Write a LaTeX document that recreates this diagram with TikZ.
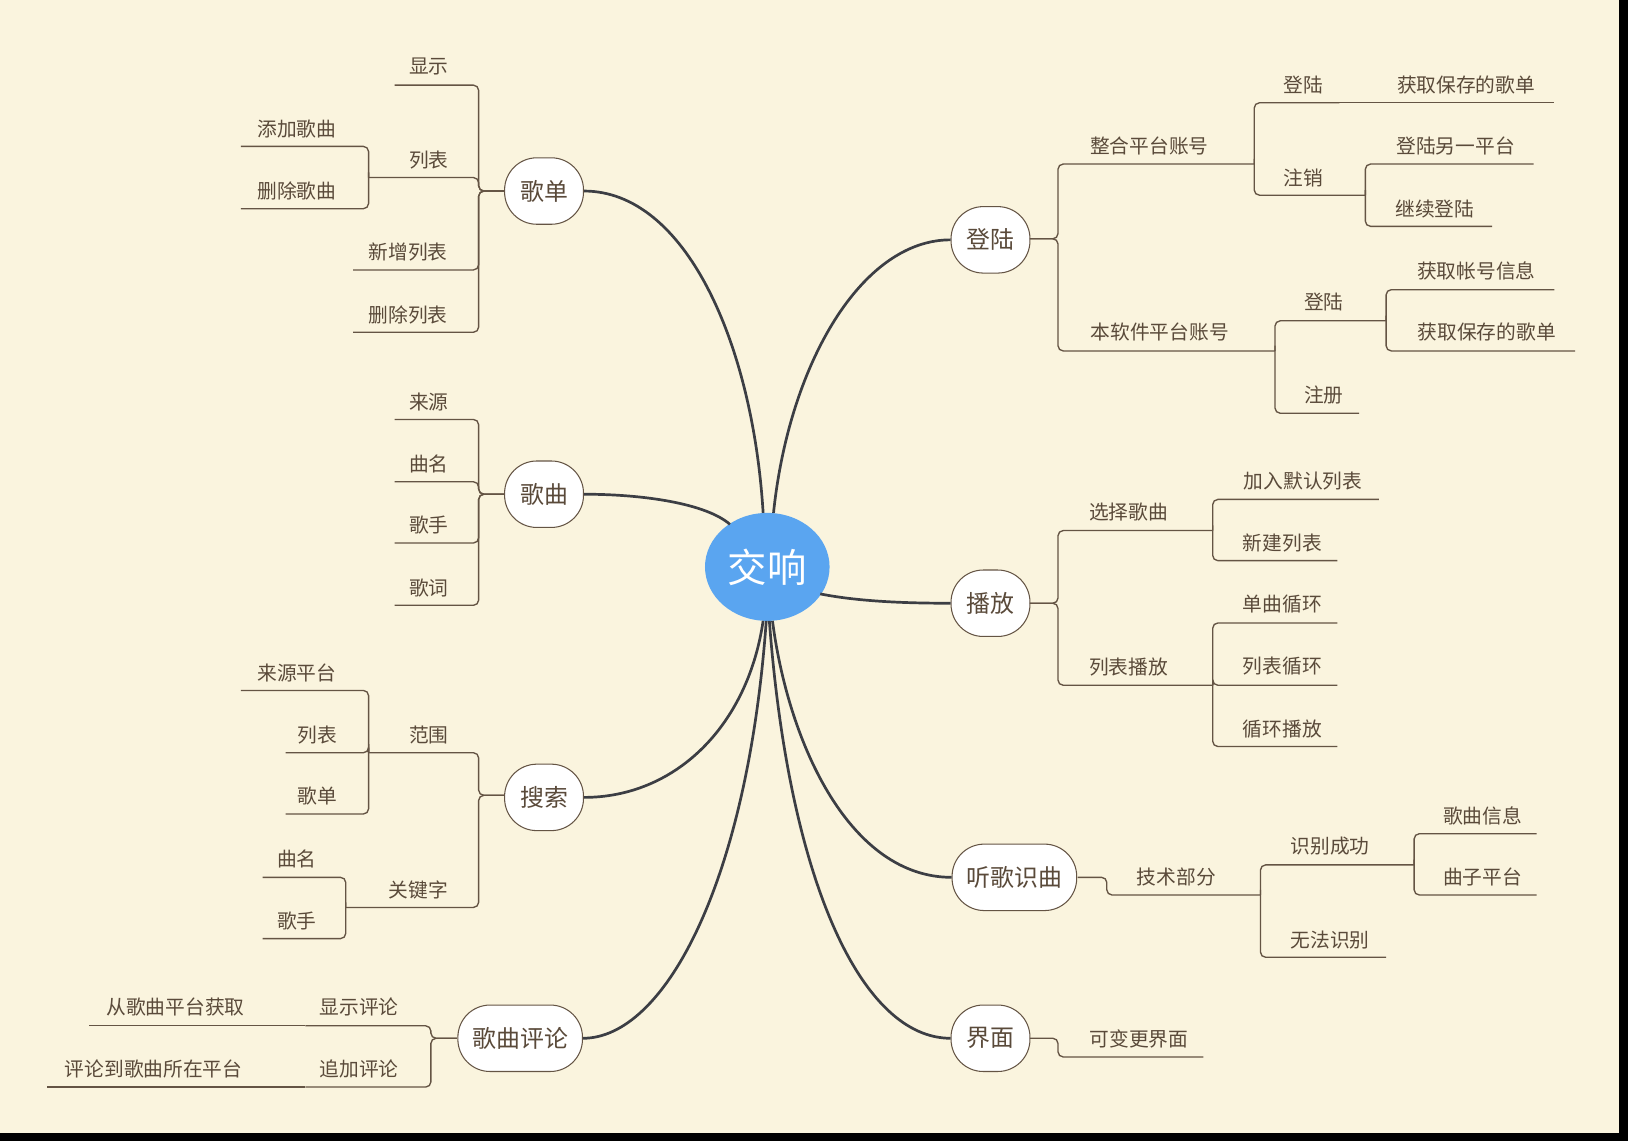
\documentclass[tikz,border=0pt]{standalone}
\usepackage{fontspec}
\setmainfont{Noto Sans CJK SC}
\usetikzlibrary{shapes.geometric}
\definecolor{bg}{RGB}{250,244,222}
\definecolor{txt}{RGB}{90,74,58}
\definecolor{brn}{RGB}{100,84,68}
\definecolor{mainc}{RGB}{60,62,68}
\definecolor{blu}{RGB}{90,165,240}
\tikzset{
 topic/.style={draw=brn,line width=1pt,fill=white,rounded corners=31pt,minimum height=64pt,minimum width=76pt,inner xsep=14pt,text=txt,font=\fontsize{23}{23}\selectfont},
 lab/.style={text=txt,font=\fontsize{19}{19}\selectfont,inner sep=0pt},
 br/.style={draw=brn,line width=1.3pt,rounded corners=5pt},
 mainl/.style={draw=mainc,line width=2.6pt},
}
\newcommand{\brn}[5]{\draw[br] (#1,#2) -- (#3,#2) -- (#3,#4) -- (#5,#4);}
\newcommand{\lb}[3]{\node[lab] at (#1,#2) {#3};}
\begin{document}
\begin{tikzpicture}[x=1pt,y=-1pt]
\fill[black] (0,0) rectangle (1568,1099);
\fill[bg] (0,0) rectangle (1559,1091);
\useasboundingbox (0,0) rectangle (1568,1099);
% topics
\node[topic] (gd) at (524,184) {歌单};
\node[topic] (gq) at (524,476) {歌曲};
\node[topic] (ss) at (524,768) {搜索};
\node[topic] (pl) at (501,1000) {歌曲评论};
\node[topic] (dl) at (954,231) {登陆};
\node[topic] (bf) at (954,581) {播放};
\node[topic] (tg) at (977,845) {听歌识曲};
\node[topic] (jm) at (954,1000) {界面};
\node[ellipse,fill=blu,minimum width=120pt,minimum height=104pt,text=white,font=\fontsize{38}{38}\selectfont] (c) at (739,546) {交响};
% main curves
\draw[mainl] (735,494) .. controls (725,330) and (660,184) .. (gd.east);
\draw[mainl] (703,505) .. controls (680,485) and (620,476) .. (gq.east);
\draw[mainl] (735,598) .. controls (720,700) and (650,768) .. (ss.east);
\draw[mainl] (738,598) .. controls (720,850) and (640,1000) .. (pl.east);
\draw[mainl] (745,494) .. controls (760,350) and (830,231) .. (dl.west);
\draw[mainl] (790,572) .. controls (830,580) and (880,581) .. (bf.west);
\draw[mainl] (744,598) .. controls (760,720) and (820,845) .. (tg.west);
\draw[mainl] (741,598) .. controls (760,850) and (830,1000) .. (jm.west);
% 歌单
\brn{486}{184}{461}{82}{380} \lb{413}{64}{显示}
\brn{486}{184}{461}{171}{355} \lb{413}{154}{列表}
\brn{486}{184}{461}{260}{340} \lb{393}{243}{新增列表}
\brn{486}{184}{461}{320}{340} \lb{393}{303}{删除列表}
\brn{355}{171}{355}{141}{232} \lb{286}{124}{添加歌曲}
\brn{355}{171}{355}{201}{232} \lb{286}{184}{删除歌曲}
% 歌曲
\brn{486}{476}{461}{404}{380} \lb{413}{387}{来源}
\brn{486}{476}{461}{464}{380} \lb{413}{447}{曲名}
\brn{486}{476}{461}{523}{380} \lb{413}{506}{歌手}
\brn{486}{476}{461}{583}{380} \lb{413}{566}{歌词}
% 搜索
\brn{486}{766}{461}{725}{355} \lb{413}{708}{范围}
\brn{486}{766}{461}{874}{333} \lb{403}{857}{关键字}
\brn{355}{725}{355}{665}{232} \lb{286}{648}{来源平台}
\brn{355}{725}{355}{725}{275} \lb{306}{708}{列表}
\brn{355}{725}{355}{784}{275} \lb{306}{767}{歌单}
\brn{333}{874}{333}{845}{253} \lb{286}{827}{曲名}
\brn{333}{874}{333}{904}{253} \lb{286}{887}{歌手}
% 歌曲评论
\brn{440}{1000}{415}{988}{294} \lb{346}{970}{显示评论}
\brn{440}{1000}{415}{1047}{294} \lb{346}{1030}{追加评论}
\draw[br] (294,988) -- (86,988); \lb{169}{970}{从歌曲平台获取}
\draw[br] (294,1047) -- (45,1047); \lb{148}{1030}{评论到歌曲所在平台}
% 登陆
\brn{992}{230}{1019}{158}{1208} \lb{1107}{141}{整合平台账号}
\brn{992}{230}{1019}{338}{1228} \lb{1117}{320}{本软件平台账号}
\brn{1208}{158}{1208}{99}{1290} \lb{1255}{82}{登陆}
\draw[br] (1290,99) -- (1497,99); \lb{1412}{82}{获取保存的歌单}
\brn{1208}{158}{1208}{188}{1315} \lb{1255}{171}{注销}
\brn{1315}{188}{1315}{158}{1477} \lb{1402}{141}{登陆另一平台}
\brn{1315}{188}{1315}{218}{1437} \lb{1382}{201}{继续登陆}
\brn{1228}{338}{1228}{309}{1335} \lb{1275}{291}{登陆}
\brn{1228}{338}{1228}{398}{1309} \lb{1275}{380}{注册}
\brn{1335}{309}{1335}{279}{1497} \lb{1422}{261}{获取帐号信息}
\brn{1335}{309}{1335}{338}{1517} \lb{1432}{320}{获取保存的歌单}
% 播放
\brn{992}{581}{1019}{511}{1168} \lb{1087}{493}{选择歌曲}
\brn{992}{581}{1019}{660}{1168} \lb{1087}{642}{列表播放}
\brn{1168}{511}{1168}{481}{1328} \lb{1255}{463}{加入默认列表}
\brn{1168}{511}{1168}{540}{1288} \lb{1235}{523}{新建列表}
\brn{1168}{660}{1168}{600}{1288} \lb{1235}{582}{单曲循环}
\brn{1168}{660}{1168}{660}{1288} \lb{1235}{642}{列表循环}
\brn{1168}{660}{1168}{719}{1288} \lb{1235}{702}{循环播放}
% 听歌识曲
\brn{1038}{845}{1066}{862}{1214} \lb{1133}{845}{技术部分}
\brn{1214}{862}{1214}{833}{1362} \lb{1281}{815}{识别成功}
\brn{1214}{862}{1214}{922}{1335} \lb{1281}{905}{无法识别}
\brn{1362}{833}{1362}{803}{1480} \lb{1428}{786}{歌曲信息}
\brn{1362}{833}{1362}{862}{1480} \lb{1428}{845}{曲子平台}
% 界面
\brn{992}{1000}{1019}{1018}{1159} \lb{1097}{1001}{可变更界面}
\end{tikzpicture}
\end{document}
